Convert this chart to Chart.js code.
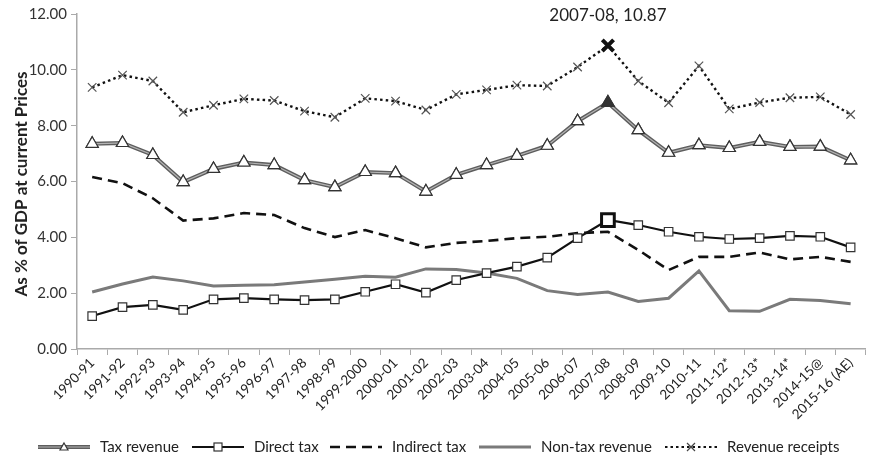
<!DOCTYPE html>
<html>
<head>
<meta charset="utf-8">
<script src="https://cdn.jsdelivr.net/npm/chart.js@4.4.1/dist/chart.umd.min.js"></script>
<style>
  html, body { margin: 0; padding: 0; background: #fff; }
  #wrap { width: 874px; height: 459px; }
</style>
</head>
<body>
<div id="wrap"><canvas id="chart" width="874" height="459"></canvas></div>
<script>
// --- data ---
const years = ['1990-91','1991-92','1992-93','1993-94','1994-95','1995-96','1996-97','1997-98',
  '1998-99','1999-2000','2000-01','2001-02','2002-03','2003-04','2004-05','2005-06','2006-07',
  '2007-08','2008-09','2009-10','2010-11','2011-12*','2012-13*','2013-14*','2014-15@','2015-16 (AE)'];

const taxRevenue = [7.35, 7.38, 6.95, 5.98, 6.45, 6.68, 6.59, 6.05, 5.8, 6.34, 6.3, 5.64, 6.24, 6.59,
  6.92, 7.28, 8.16, 8.82, 7.84, 7.03, 7.3, 7.2, 7.42, 7.24, 7.25, 6.76];
const directTax = [1.18, 1.5, 1.58, 1.4, 1.78, 1.82, 1.78, 1.75, 1.78, 2.05, 2.32, 2.02, 2.47, 2.72,
  2.95, 3.27, 3.97, 4.62, 4.44, 4.2, 4.02, 3.94, 3.97, 4.05, 4.02, 3.64];
const indirectTax = [6.16, 5.94, 5.4, 4.6, 4.68, 4.87, 4.8, 4.33, 4.01, 4.26, 3.97, 3.64, 3.8, 3.87,
  3.97, 4.02, 4.15, 4.2, 3.55, 2.83, 3.3, 3.3, 3.46, 3.21, 3.3, 3.12];
const nonTaxRevenue = [2.04, 2.33, 2.58, 2.44, 2.26, 2.28, 2.3, 2.4, 2.5, 2.61, 2.57, 2.87, 2.85, 2.72,
  2.53, 2.09, 1.95, 2.04, 1.7, 1.82, 2.8, 1.37, 1.35, 1.78, 1.74, 1.62];
const revenueReceipts = [9.37, 9.81, 9.6, 8.48, 8.73, 8.96, 8.9, 8.52, 8.3, 8.98, 8.88, 8.56, 9.12, 9.28,
  9.45, 9.42, 10.1, 10.87, 9.6, 8.82, 10.14, 8.6, 8.83, 9.0, 9.03, 8.4];

const yTicks = [0, 2, 4, 6, 8, 10, 12];
const peakIndex = 17;
const peakLabel = '2007-08, 10.87';
const yTitle = 'As % of GDP at current Prices';

const FONT = 'Lato, "Open Sans", sans-serif';

// per-point styling: the peak year gets a heavier marker
function perPoint(normal, peak) {
  return years.map((_, i) => (i === peakIndex ? peak : normal));
}

// annotation above the 2007-08 peak + the y title (drawn by hand, squeezed like Calibri)
const textPlugin = {
  id: 'extraText',
  afterDatasetsDraw(chart) {
    const { ctx, scales } = chart;
    const x = scales.x.getPixelForValue(peakIndex);
    const y = scales.y.getPixelForValue(revenueReceipts[peakIndex]);
    ctx.save();
    ctx.font = '17px ' + FONT;
    ctx.fillStyle = '#222';
    ctx.textAlign = 'center';
    ctx.textBaseline = 'middle';
    ctx.fillText(peakLabel, x, y - 30);
    ctx.restore();

    ctx.save();
    ctx.font = 'bold 17px ' + FONT;
    const w = ctx.measureText(yTitle).width;
    const squeeze = Math.min(1, 225 / w);
    ctx.translate(22, 184);
    ctx.rotate(-Math.PI / 2);
    ctx.scale(squeeze, 1);
    ctx.fillStyle = '#222';
    ctx.textAlign = 'center';
    ctx.textBaseline = 'middle';
    ctx.fillText(yTitle, 0, 0);
    ctx.restore();
  }
};

// tax revenue is a "double" line in the original: thin light core on the grey stroke
const doubleLinePlugin = {
  id: 'doubleLine',
  afterDatasetDraw(chart, args) {
    if (chart.data.datasets[args.index].label !== 'Tax revenue') return;
    const ctx = chart.ctx;
    const pts = args.meta.data;
    ctx.save();
    ctx.beginPath();
    pts.forEach((p, i) => (i ? ctx.lineTo(p.x, p.y) : ctx.moveTo(p.x, p.y)));
    ctx.lineWidth = 1.2;
    ctx.strokeStyle = '#b4b4b4';
    ctx.lineJoin = 'miter';
    ctx.stroke();
    ctx.restore();
    pts.forEach(p => p.draw(ctx, chart.chartArea));
  }
};

// bottom legend drawn by hand so dashes / markers look like the original
const legendItems = [
  { text: 'Tax revenue', x: 38, color: '#5e5e5e', width: 4, dash: [], marker: 'triangle', core: true },
  { text: 'Direct tax', x: 192, color: '#111', width: 2.2, dash: [], marker: 'rect' },
  { text: 'Indirect tax', x: 330, color: '#111', width: 2.5, dash: [10, 6], marker: null },
  { text: 'Non-tax revenue', x: 479, color: '#7a7a7a', width: 3, dash: [], marker: null },
  { text: 'Revenue receipts', x: 665, color: '#111', width: 2.2, dash: [2.5, 3], marker: 'cross' }
];
const legendPlugin = {
  id: 'bottomLegend',
  afterDraw(chart) {
    const ctx = chart.ctx;
    const y = 447, len = 52;
    ctx.save();
    legendItems.forEach(it => {
      ctx.beginPath();
      ctx.setLineDash(it.dash);
      ctx.lineWidth = it.width;
      ctx.strokeStyle = it.color;
      ctx.moveTo(it.x, y);
      ctx.lineTo(it.x + len, y);
      ctx.stroke();
      ctx.setLineDash([]);
      if (it.core) {
        ctx.beginPath();
        ctx.lineWidth = 1.2;
        ctx.strokeStyle = '#b4b4b4';
        ctx.moveTo(it.x, y);
        ctx.lineTo(it.x + len, y);
        ctx.stroke();
      }
      const cx = it.x + len / 2;
      if (it.marker === 'triangle') {
        ctx.beginPath();
        ctx.moveTo(cx, y - 4);
        ctx.lineTo(cx + 4, y + 3);
        ctx.lineTo(cx - 4, y + 3);
        ctx.closePath();
        ctx.fillStyle = '#fff';
        ctx.fill();
        ctx.lineWidth = 1.2;
        ctx.strokeStyle = '#333';
        ctx.stroke();
      } else if (it.marker === 'rect') {
        ctx.fillStyle = '#fff';
        ctx.fillRect(cx - 4, y - 4, 8, 8);
        ctx.lineWidth = 1.2;
        ctx.strokeStyle = '#333';
        ctx.strokeRect(cx - 4, y - 4, 8, 8);
      } else if (it.marker === 'cross') {
        ctx.beginPath();
        ctx.lineWidth = 1.2;
        ctx.strokeStyle = '#444';
        ctx.moveTo(cx - 4, y - 4); ctx.lineTo(cx + 4, y + 4);
        ctx.moveTo(cx + 4, y - 4); ctx.lineTo(cx - 4, y + 4);
        ctx.stroke();
      }
      ctx.font = '15px ' + FONT;
      ctx.fillStyle = '#222';
      ctx.textAlign = 'left';
      ctx.textBaseline = 'middle';
      ctx.fillText(it.text, it.x + len + 10, y);
    });
    ctx.restore();
  }
};

new Chart(document.getElementById('chart'), {
  type: 'line',
  data: {
    labels: years,
    datasets: [
      {
        label: 'Revenue receipts',
        data: revenueReceipts,
        borderColor: '#111',
        borderWidth: 2.4,
        borderDash: [2.5, 3.2],
        pointStyle: 'crossRot',
        pointRadius: perPoint(6, 8),
        pointBorderWidth: perPoint(1.2, 4),
        pointBorderColor: perPoint('#555', '#111'),
        tension: 0
      },
      {
        label: 'Tax revenue',
        data: taxRevenue,
        borderColor: '#5e5e5e',
        borderWidth: 4,
        pointStyle: 'triangle',
        pointRadius: perPoint(7, 7),
        pointBorderWidth: perPoint(1.2, 1.6),
        pointBorderColor: '#333',
        pointBackgroundColor: perPoint('#fff', '#333'),
        tension: 0
      },
      {
        label: 'Direct tax',
        data: directTax,
        borderColor: '#111',
        borderWidth: 2.2,
        pointStyle: 'rect',
        pointRadius: perPoint(6, 9),
        pointBorderWidth: perPoint(1.2, 3),
        pointBorderColor: perPoint('#333', '#111'),
        pointBackgroundColor: '#fff',
        tension: 0
      },
      {
        label: 'Indirect tax',
        data: indirectTax,
        borderColor: '#111',
        borderWidth: 2.6,
        borderDash: [10, 6],
        pointRadius: 0,
        tension: 0
      },
      {
        label: 'Non-tax revenue',
        data: nonTaxRevenue,
        borderColor: '#7a7a7a',
        borderWidth: 3,
        pointRadius: 0,
        tension: 0
      }
    ]
  },
  options: {
    responsive: false,
    animation: false,
    devicePixelRatio: 1,
    layout: { padding: { top: 14, right: 1, left: 0, bottom: 0 } },
    plugins: {
      legend: { display: false },
      tooltip: { enabled: false }
    },
    scales: {
      x: {
        offset: true,
        grid: { display: true, drawOnChartArea: false, tickLength: 6, color: '#aaa', offset: true },
        border: { color: '#aaa', width: 1.5 },
        ticks: {
          autoSkip: false, maxRotation: 45, minRotation: 45,
          color: '#222', font: { family: FONT, size: 13.5 }, padding: 0
        },
        afterFit(scale) { scale.height = 110; }
      },
      y: {
        min: 0, max: 12,
        afterBuildTicks(scale) { scale.ticks = yTicks.map(v => ({ value: v })); },
        grid: { display: true, drawOnChartArea: false, tickLength: 6, color: '#aaa' },
        border: { color: '#aaa', width: 1.5 },
        ticks: {
          color: '#333', font: { family: FONT, size: 15 }, padding: 4,
          callback: v => Number(v).toFixed(2)
        },
        afterFit(scale) { scale.width = 77; }
      }
    }
  },
  plugins: [doubleLinePlugin, textPlugin, legendPlugin]
});
</script>
</body>
</html>
